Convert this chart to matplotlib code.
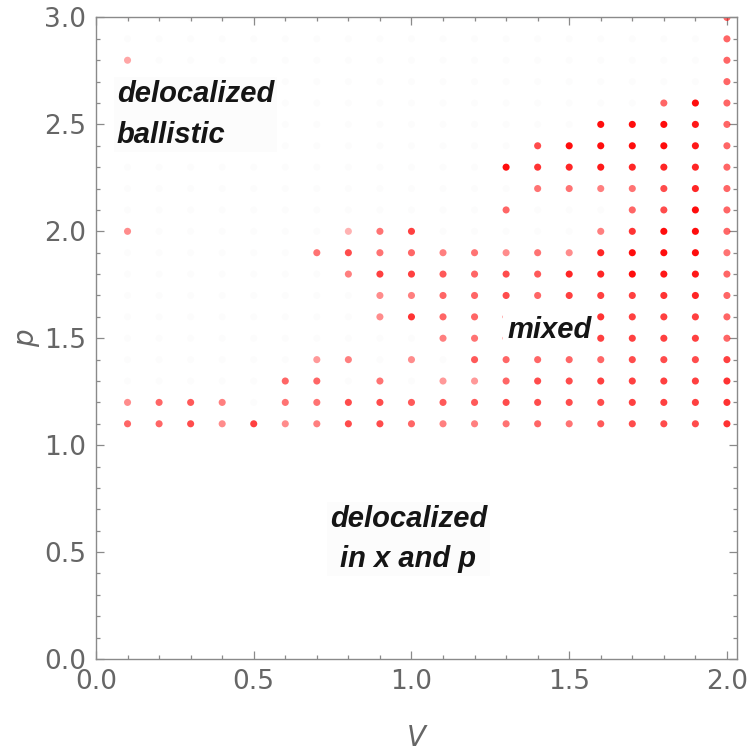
import matplotlib
matplotlib.use("Agg")
import matplotlib.pyplot as plt
import numpy as np
from matplotlib.ticker import MultipleLocator

# grid of parameters
V_values = [round(0.1 * i, 1) for i in range(1, 21)]          # 0.1 .. 2.0
p_values = [round(3.0 - 0.1 * i, 1) for i in range(20)]       # 3.0 .. 1.1

# intensity of each point (rows: p from 3.0 down to 1.1, columns: V 0.1..2.0); 0 = faint
intensity = [
    # 0.1  .2   .3   .4   .5   .6   .7   .8   .9  1.0  1.1  1.2  1.3  1.4  1.5  1.6  1.7  1.8  1.9  2.0
    [0,   0,   0,   0,   0,   0,   0,   0,   0,   0,   0,   0,   0,   0,   0,   0,   0,   0,   0,  .60],  # 3.0
    [0,   0,   0,   0,   0,   0,   0,   0,   0,   0,   0,   0,   0,   0,   0,   0,   0,   0,   0,  .60],  # 2.9
    [.35, 0,   0,   0,   0,   0,   0,   0,   0,   0,   0,   0,   0,   0,   0,   0,   0,   0,   0,  .60],  # 2.8
    [0,   0,   0,   0,   0,   0,   0,   0,   0,   0,   0,   0,   0,   0,   0,   0,   0,   0,   0,  .60],  # 2.7
    [0,   0,   0,   0,   0,   0,   0,   0,   0,   0,   0,   0,   0,   0,   0,   0,   0,  .60, .95, .60],  # 2.6
    [0,   0,   0,   0,   0,   0,   0,   0,   0,   0,   0,   0,   0,   0,   0,  .95, .95, .95, .90, .60],  # 2.5
    [0,   0,   0,   0,   0,   0,   0,   0,   0,   0,   0,   0,   0,  .70, .95, .95, .95, .95, .90, .60],  # 2.4
    [0,   0,   0,   0,   0,   0,   0,   0,   0,   0,   0,   0,  .95, .80, .85, .90, .85, .85, .85, .60],  # 2.3
    [0,   0,   0,   0,   0,   0,   0,   0,   0,   0,   0,   0,   0,  .55, .55, .50, .55, .70, .85, .60],  # 2.2
    [0,   0,   0,   0,   0,   0,   0,   0,   0,   0,   0,   0,  .60,  0,   0,   0,  .60, .70, .95, .60],  # 2.1
    [.45, 0,   0,   0,   0,   0,   0,  .30, .55, .75,  0,   0,   0,   0,   0,  .50, .80, .95, .95, .60],  # 2.0
    [0,   0,   0,   0,   0,   0,  .55, .70, .55, .60, .50, .55, .45, .55, .45, .85, .95, .95, .95, .55],  # 1.9
    [0,   0,   0,   0,   0,   0,   0,  .50, .75, .75, .65, .60, .70, .65, .85, .85, .95, .90, .90, .60],  # 1.8
    [0,   0,   0,   0,   0,   0,   0,   0,  .45, .50, .60, .60, .70, .60, .75, .75, .75, .80, .85, .60],  # 1.7
    [0,   0,   0,   0,   0,   0,   0,   0,  .45, .80, .60, .60, .70, .70, .70, .80, .75, .75, .75, .60],  # 1.6
    [0,   0,   0,   0,   0,   0,   0,   0,   0,   0,  .50, .55, .60, .70, .70, .75, .75, .75, .75, .60],  # 1.5
    [0,   0,   0,   0,   0,   0,  .40, .50,  0,  .45,  0,  .65, .60, .60, .60, .60, .70, .70, .70, .75],  # 1.4
    [0,   0,   0,   0,   0,  .60, .60,  0,  .55,  0,  .40, .40, .60, .70, .70, .75, .75, .75, .75, .80],  # 1.3
    [.45, .60, .65, .50, 0,  .55, .55, .70, .70, .65, .65, .65, .70, .70, .70, .70, .75, .75, .75, .80],  # 1.2
    [.60, .60, .70, .45, .75, .45, .50, .70, .70, .60, .50, .50, .55, .60, .55, .65, .70, .70, .70, .80],  # 1.1
]

x_ticks = [0.0, 0.5, 1.0, 1.5, 2.0]
y_ticks = [0.0, 0.5, 1.0, 1.5, 2.0, 2.5, 3.0]

fig = plt.figure(figsize=(7.5, 7.53), dpi=100)
ax = fig.add_axes([0.128, 0.1248, 0.8547, 0.852])

VV, PP = np.meshgrid(V_values, p_values)
I = np.array(intensity, dtype=float)
colors = np.zeros((I.size, 4))
flatI = I.ravel()
for k, a in enumerate(flatI):
    if a > 0:
        colors[k] = (1.0, 0.0, 0.0, a)
    else:
        colors[k] = (0.6, 0.5, 0.5, 0.025)
ax.scatter(VV.ravel(), PP.ravel(), s=26, c=colors, linewidths=0, zorder=2)

ax.set_xlim(0, 2.032)
ax.set_ylim(0, 3.0)
ax.set_xticks(x_ticks)
ax.set_yticks(y_ticks)
ax.set_xticklabels([f"{v:.1f}" for v in x_ticks])
ax.set_yticklabels([f"{v:.1f}" for v in y_ticks])
ax.xaxis.set_minor_locator(MultipleLocator(0.1))
ax.yaxis.set_minor_locator(MultipleLocator(0.1))

gray = "#666666"
for s in ax.spines.values():
    s.set_color("#8a8a8a")
    s.set_linewidth(1.0)
ax.tick_params(which="both", direction="in", top=True, right=True, color="#8a8a8a", width=0.9)
ax.tick_params(which="major", length=6, labelsize=19, labelcolor=gray, pad=7)
ax.tick_params(which="minor", length=3.2)
for lab in ax.get_xticklabels() + ax.get_yticklabels():
    lab.set_family("DejaVu Sans")

ax.set_xlabel("V", fontsize=20, style="italic", color=gray, labelpad=21)
ax.set_ylabel("p", fontsize=20, style="italic", color=gray, labelpad=3)

tfont = dict(family=["Liberation Sans", "DejaVu Sans"], fontsize=21, fontweight="bold",
             style="italic", color="#151515")
ax.text(0.066, 2.548, "delocalized\nballistic", ha="left", va="center", linespacing=1.6,
        bbox=dict(boxstyle="square,pad=0.1", facecolor="#fcfcfc", edgecolor="none"),
        zorder=3, **tfont)
ax.text(1.303, 1.54, "mixed", ha="left", va="center",
        bbox=dict(boxstyle="square,pad=0.15", facecolor="white", edgecolor="none"),
        zorder=3, **tfont)
ax.text(0.99, 0.56, "delocalized\nin x and p", ha="center", va="center", linespacing=1.55,
        bbox=dict(boxstyle="square,pad=0.1", facecolor="#fcfcfc", edgecolor="none"),
        zorder=3, **tfont)

fig.savefig("out.png", dpi=100)
